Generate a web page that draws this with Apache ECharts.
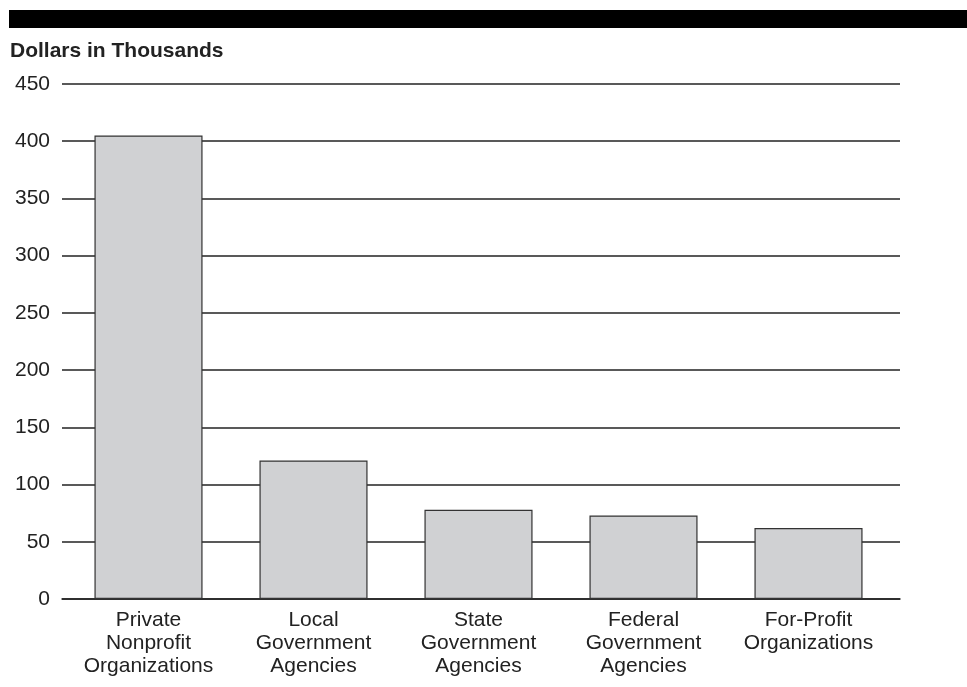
<!DOCTYPE html>
<html><head><meta charset="utf-8">
<script src="https://cdn.jsdelivr.net/npm/echarts@6/dist/echarts.min.js"></script>
<style>html,body{margin:0;padding:0;background:#fff}#c{width:967px;height:687px}</style>
</head><body><div id="c"></div>
<script>
const categories = ["Private\nNonprofit\nOrganizations", "Local\nGovernment\nAgencies", "State\nGovernment\nAgencies", "Federal\nGovernment\nAgencies", "For-Profit\nOrganizations"];
const values = [405, 121, 78, 73, 62];
const yTicks = [0, 50, 100, 150, 200, 250, 300, 350, 400, 450];

const FONT = '"Liberation Sans", Arial, sans-serif';
const chart = echarts.init(document.getElementById('c'));
chart.setOption({
  animation: false,
  backgroundColor: '#fff',
  textStyle: { fontFamily: FONT },
  graphic: [
    { type: 'rect', left: 9, top: 10, shape: { width: 958, height: 18 }, style: { fill: '#000' } },
    { type: 'text', x: 10, y: 51, style: { text: 'Dollars in Thousands', font: 'bold 21px ' + FONT, fill: '#222', verticalAlign: 'middle' } }
  ],
  grid: [
    { left: 62, right: 67, top: 84, bottom: 88, containLabel: false },
    { left: 66, right: 76, top: 84, bottom: 88, containLabel: false }
  ],
  xAxis: [
    {
      gridIndex: 0, type: 'category', data: categories,
      axisLine: { show: true, lineStyle: { color: '#222', width: 1.5 } },
      axisTick: { show: false }, axisLabel: { show: false }
    },
    {
      gridIndex: 1, type: 'category', data: categories,
      axisLine: { show: false }, axisTick: { show: false },
      axisLabel: { color: '#222', fontSize: 21, lineHeight: 23, margin: 10, interval: 0 }
    }
  ],
  yAxis: [
    {
      gridIndex: 0, type: 'value',
      min: yTicks[0], max: yTicks[yTicks.length - 1], interval: 50,
      axisLine: { show: false }, axisTick: { show: false },
      axisLabel: { color: '#222', fontSize: 21, margin: 12 },
      splitLine: { show: true, lineStyle: { color: '#222', width: 1.5 } }
    },
    {
      gridIndex: 1, type: 'value',
      min: yTicks[0], max: yTicks[yTicks.length - 1], interval: 50,
      show: false, splitLine: { show: false }
    }
  ],
  series: [{
    type: 'bar',
    xAxisIndex: 1, yAxisIndex: 1,
    data: values,
    barWidth: '65.5%',
    itemStyle: { color: '#d0d1d3', borderColor: '#333', borderWidth: 1.2 }
  }]
});
</script></body></html>
